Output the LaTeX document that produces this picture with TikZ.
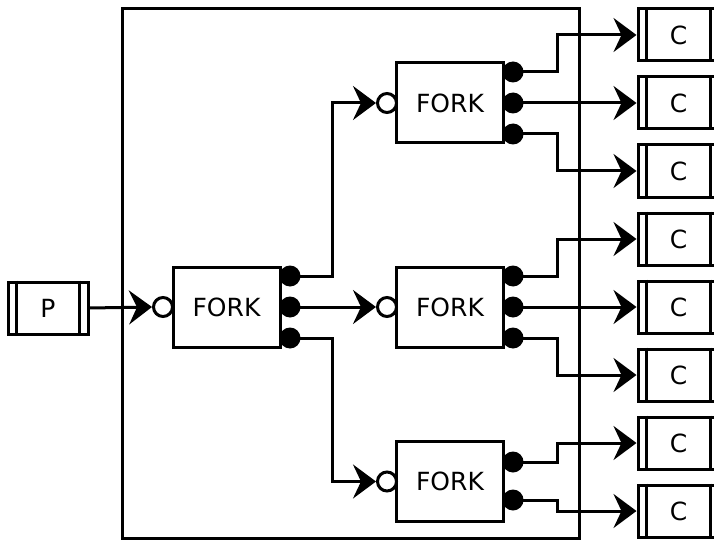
\documentclass[tikz,border=0pt]{standalone}
\usepackage{fontspec}
\setmainfont{DejaVu Sans}
\usetikzlibrary{arrows.meta, positioning}

\begin{document}
\begin{tikzpicture}[x=1pt, y=-1pt, line width=3pt,
    fork/.style={draw, minimum width=107pt, minimum height=80pt, inner sep=0pt,
      font=\fontsize{25}{30}\selectfont},
    proc/.style={draw, minimum width=80pt, minimum height=52pt, inner sep=0pt,
      font=\fontsize{25}{30}\selectfont},
    outport/.style={circle, fill=black, minimum size=21pt, inner sep=0pt},
    inport/.style={circle, draw, fill=white, minimum size=19pt, inner sep=0pt},
    conn/.style={-{Stealth[length=23pt, width=34pt, inset=8pt]}}]
      \useasboundingbox (0,0) rectangle (714,540);
      % outer frame
      \draw (122,9) rectangle (579,538);
      % producer and consumers
      \node[proc] (p) at (48,308) {P};
      \foreach \i in {1,...,8}
        \node[proc, minimum width=81pt] (c\i) at (678.5,{-33+68*\i}) {C};
      \foreach \n in {p,c1,c2,c3,c4,c5,c6,c7,c8}
        \draw ([xshift=10pt]\n.north west) -- ([xshift=10pt]\n.south west)
              ([xshift=-10pt]\n.north east) -- ([xshift=-10pt]\n.south east);
      % forks
      \node[fork] (f1) at (226.5,307) {FORK};
      \node[fork] (f2) at (450,103) {FORK};
      \node[fork] (f3) at (450,307) {FORK};
      \node[fork] (f4) at (450,481.5) {FORK};
      % ports
      \node[inport] (f1in) at (163,307) {};
      \node[inport] (f2in) at (387,103) {};
      \node[inport] (f3in) at (387,307) {};
      \node[inport] (f4in) at (387,481.5) {};
      \node[outport] (a1) at (290,276) {};
      \node[outport] (a2) at (290,307) {};
      \node[outport] (a3) at (290,338) {};
      \node[outport] (b1) at (513,72) {};
      \node[outport] (b2) at (513,103) {};
      \node[outport] (b3) at (513,134) {};
      \node[outport] (d1) at (513,276) {};
      \node[outport] (d2) at (513,307) {};
      \node[outport] (d3) at (513,338) {};
      \node[outport] (e1) at (513,462) {};
      \node[outport] (e2) at (513,500) {};
      % connections
      \draw[conn] (p.east) -- (f1in.west);
      \draw[conn] (a1.center) -- ++(42,0) |- (f2in.west);
      \draw[conn] (a2.center) -- (f3in.west);
      \draw[conn] (a3.center) -- ++(42,0) |- (f4in.west);
      \draw[conn] (b1.center) -- ++(44,0) |- (c1.west);
      \draw[conn] (b2.center) -- (c2.west);
      \draw[conn] (b3.center) -- ++(44,0) |- (c3.west);
      \draw[conn] (d1.center) -- ++(44,0) |- (c4.west);
      \draw[conn] (d2.center) -- (c5.west);
      \draw[conn] (d3.center) -- ++(44,0) |- (c6.west);
      \draw[conn] (e1.center) -- ++(44,0) |- (c7.west);
      \draw[conn] (e2.center) -- ++(44,0) |- (c8.west);
    \end{tikzpicture}
\end{document}
